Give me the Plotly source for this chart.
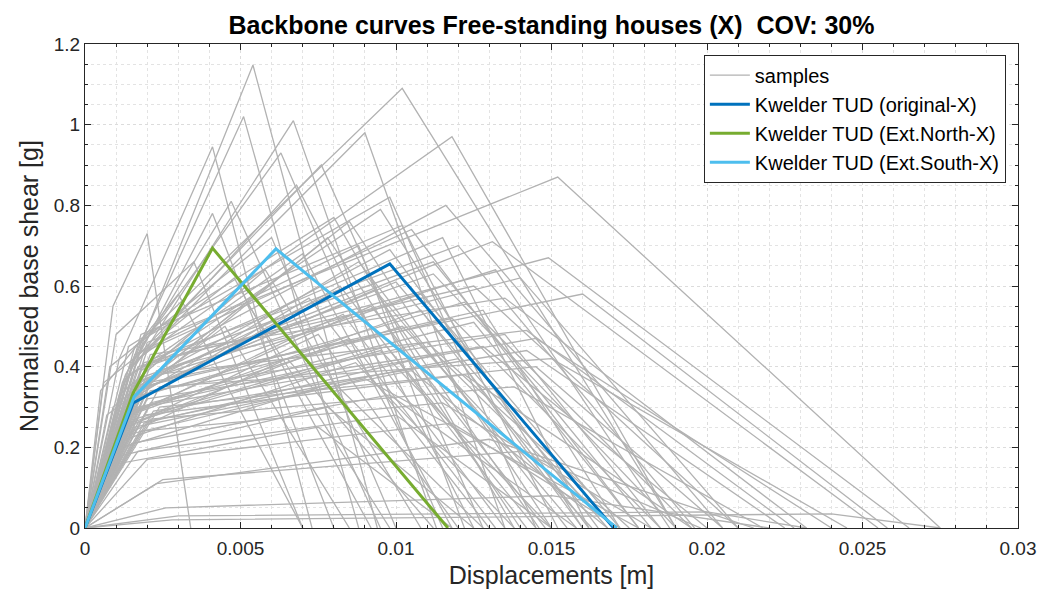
import plotly.graph_objects as go

# ---- sample backbone curves: (0,0) -> yield -> peak -> ultimate (0 force) ----
yield_disp = [0.0015, 0.0012, 0.0016, 0.0011, 0.0018, 0.0015, 0.0016, 0.0017, 0.0020, 0.0014,
              0.0017, 0.0016, 0.0009, 0.0012, 0.0013, 0.0015, 0.0016, 0.0014, 0.0018, 0.0012,
              0.0020, 0.0015, 0.0013, 0.0017, 0.0019, 0.0016, 0.0014, 0.0021, 0.0012, 0.0018,
              0.0015, 0.0022, 0.0011, 0.0017, 0.0020, 0.0014, 0.0024, 0.0013, 0.0016, 0.0019,
              0.0012, 0.0021, 0.0015, 0.0018, 0.0023, 0.0028, 0.0010, 0.0008, 0.0006, 0.0011,
              0.0013, 0.0016, 0.0019, 0.0014, 0.0017, 0.0020, 0.0022, 0.0015, 0.0018, 0.0021,
              0.0013, 0.0016, 0.0019, 0.0024, 0.0012, 0.0017, 0.0020, 0.0025, 0.0009, 0.0007,
              0.0010, 0.0014, 0.0018, 0.0016, 0.0020, 0.0023, 0.0015, 0.0018, 0.0021, 0.0017,
              0.0013, 0.0022, 0.0011, 0.0005, 0.0026, 0.0030, 0.0016, 0.0019, 0.0020, 0.0018]
yield_force = [0.40, 0.36, 0.40, 0.42, 0.45, 0.40, 0.45, 0.42, 0.46, 0.38,
               0.40, 0.36, 0.55, 0.35, 0.38, 0.40, 0.42, 0.33, 0.39, 0.30,
               0.44, 0.35, 0.31, 0.37, 0.41, 0.34, 0.28, 0.43, 0.27, 0.33,
               0.29, 0.38, 0.24, 0.30, 0.32, 0.26, 0.35, 0.22, 0.25, 0.28,
               0.20, 0.27, 0.21, 0.24, 0.11, 0.02, 0.48, 0.40, 0.36, 0.33,
               0.37, 0.31, 0.36, 0.30, 0.34, 0.40, 0.42, 0.33, 0.29, 0.31,
               0.25, 0.27, 0.26, 0.30, 0.18, 0.19, 0.17, 0.12, 0.30, 0.28,
               0.22, 0.45, 0.48, 0.39, 0.37, 0.39, 0.32, 0.35, 0.34, 0.26,
               0.23, 0.29, 0.16, 0.34, 0.05, 0.03, 0.43, 0.47, 0.36, 0.30]
peak_disp = [0.0054, 0.0051, 0.0067, 0.0041, 0.0063, 0.0090, 0.0102, 0.0118, 0.0152, 0.0116,
             0.0149, 0.0131, 0.0020, 0.0041, 0.0047, 0.0068, 0.0076, 0.0085, 0.0095, 0.0078,
             0.0105, 0.0098, 0.0088, 0.0112, 0.0125, 0.0108, 0.0092, 0.0135, 0.0083, 0.0118,
             0.0102, 0.0142, 0.0075, 0.0110, 0.0128, 0.0095, 0.0150, 0.0087, 0.0105, 0.0122,
             0.0080, 0.0138, 0.0098, 0.0115, 0.0130, 0.0240, 0.0035, 0.0060, 0.0048, 0.0058,
             0.0070, 0.0082, 0.0090, 0.0072, 0.0100, 0.0112, 0.0120, 0.0093, 0.0108, 0.0125,
             0.0085, 0.0097, 0.0113, 0.0145, 0.0078, 0.0100, 0.0118, 0.0140, 0.0052, 0.0045,
             0.0065, 0.0080, 0.0102, 0.0115, 0.0132, 0.0140, 0.0122, 0.0128, 0.0135, 0.0120,
             0.0090, 0.0142, 0.0075, 0.0030, 0.0150, 0.0200, 0.0088, 0.0098, 0.0160, 0.0145]
peak_force = [1.148, 1.02, 1.01, 0.945, 0.93, 0.98, 1.09, 0.97, 0.87, 0.80,
              0.67, 0.71, 0.73, 0.78, 0.81, 0.85, 0.90, 0.76, 0.79, 0.72,
              0.74, 0.69, 0.66, 0.63, 0.60, 0.58, 0.55, 0.57, 0.53, 0.52,
              0.50, 0.49, 0.48, 0.46, 0.45, 0.44, 0.42, 0.41, 0.39, 0.38,
              0.36, 0.35, 0.33, 0.31, 0.22, 0.035, 0.66, 0.72, 0.62, 0.64,
              0.68, 0.60, 0.62, 0.57, 0.61, 0.66, 0.70, 0.59, 0.54, 0.51,
              0.47, 0.45, 0.43, 0.40, 0.30, 0.28, 0.26, 0.19, 0.56, 0.50,
              0.42, 0.77, 0.75, 0.72, 0.64, 0.62, 0.56, 0.54, 0.48, 0.42,
              0.37, 0.44, 0.25, 0.58, 0.08, 0.04, 0.70, 0.82, 0.58, 0.47]
ult_disp = [0.0094, 0.0088, 0.0113, 0.0073, 0.0115, 0.0135, 0.0190, 0.0190, 0.0275, 0.0205,
            0.0265, 0.0255, 0.0034, 0.0080, 0.0095, 0.0125, 0.0128, 0.0150, 0.0160, 0.0140,
            0.0178, 0.0165, 0.0155, 0.0190, 0.0210, 0.0172, 0.0148, 0.0232, 0.0135, 0.0185,
            0.0163, 0.0228, 0.0120, 0.0175, 0.0200, 0.0150, 0.0245, 0.0138, 0.0168, 0.0195,
            0.0128, 0.0218, 0.0158, 0.0182, 0.0215, 0.0275, 0.0070, 0.0100, 0.0092, 0.0108,
            0.0118, 0.0142, 0.0158, 0.0130, 0.0168, 0.0182, 0.0196, 0.0146, 0.0162, 0.0178,
            0.0132, 0.0145, 0.0170, 0.0205, 0.0125, 0.0150, 0.0172, 0.0198, 0.0098, 0.0085,
            0.0112, 0.0138, 0.0152, 0.0162, 0.0188, 0.0210, 0.0195, 0.0172, 0.0185, 0.0160,
            0.0178, 0.0225, 0.0118, 0.0070, 0.0220, 0.0232, 0.0122, 0.0145, 0.0258, 0.0240]

# ---- reference backbone curves ----
orig_disp = [0.0, 0.00155, 0.0098, 0.0170]
orig_force = [0.0, 0.31, 0.655, 0.0]
north_disp = [0.0, 0.00155, 0.0041, 0.01167]
north_force = [0.0, 0.335, 0.694, 0.0]
south_disp = [0.0, 0.00158, 0.00614, 0.0171]
south_force = [0.0, 0.325, 0.692, 0.0]

x_ticks = [0, 0.005, 0.01, 0.015, 0.02, 0.025, 0.03]
x_tick_text = ["0", "0.005", "0.01", "0.015", "0.02", "0.025", "0.03"]
y_ticks = [0, 0.2, 0.4, 0.6, 0.8, 1.0, 1.2]
y_tick_text = ["0", "0.2", "0.4", "0.6", "0.8", "1", "1.2"]

FONT = "Liberation Sans, Arial, sans-serif"
GRAY = "rgb(178,178,178)"

fig = go.Figure()
for i in range(len(yield_disp)):
    fig.add_trace(go.Scatter(
        x=[0.0, yield_disp[i], peak_disp[i], ult_disp[i]],
        y=[0.0, yield_force[i], peak_force[i], 0.0],
        mode="lines", line=dict(color=GRAY, width=1.3),
        name="samples", legendgroup="samples", showlegend=(i == 0),
        hoverinfo="skip"))

fig.add_trace(go.Scatter(x=orig_disp, y=orig_force, mode="lines",
                         line=dict(color="#0072BD", width=3),
                         name="Kwelder TUD (original-X)"))
fig.add_trace(go.Scatter(x=north_disp, y=north_force, mode="lines",
                         line=dict(color="#77AC30", width=3),
                         name="Kwelder TUD (Ext.North-X)"))
fig.add_trace(go.Scatter(x=south_disp, y=south_force, mode="lines",
                         line=dict(color="#4DBEEE", width=3),
                         name="Kwelder TUD (Ext.South-X)"))

axis_common = dict(
    showline=True, linecolor="#262626", linewidth=1, mirror="ticks",
    ticks="inside", ticklen=6, tickcolor="#262626",
    showgrid=True, gridcolor="#dcdcdc", griddash="dot", gridwidth=1,
    zeroline=False,
    tickfont=dict(family=FONT, size=19, color="#262626"),
)

W, H = 1050, 592
L, R, T, B = 77, 40, 36, 72
fig.update_layout(
    width=W, height=H,
    margin=dict(l=L, r=R, t=T, b=B, autoexpand=False),
    paper_bgcolor="white", plot_bgcolor="white",
    title=dict(text="<b>Backbone curves Free-standing houses (X)\u00a0\u00a0COV: 30%</b>",
               x=(L + (W - R)) / 2 / W, xanchor="center", y=1 - 17 / H, yanchor="middle",
               font=dict(family=FONT, size=25, color="black")),
    showlegend=True,
    legend=dict(x=0.987, xanchor="right", y=0.978, yanchor="top",
                bgcolor="white", bordercolor="#262626", borderwidth=1,
                font=dict(family=FONT, size=20, color="black"),
                tracegroupgap=0, itemwidth=40),
    font=dict(family=FONT),
)

fig.update_xaxes(range=[0, 0.03], tickvals=x_ticks, ticktext=x_tick_text,
                 ticklabelstandoff=3,
                 title=dict(text="Displacements [m]", font=dict(family=FONT, size=25, color="#262626"),
                            standoff=8),
                 minor=dict(dtick=0.001, showgrid=True, gridcolor="#e3e3e3", griddash="dot",
                            ticks="inside", ticklen=3, tickcolor="#262626"),
                 **axis_common)
fig.update_yaxes(range=[0, 1.2], tickvals=y_ticks, ticktext=y_tick_text,
                 title=dict(text="Normalised base shear [g]", font=dict(family=FONT, size=25, color="#262626"),
                            standoff=8),
                 minor=dict(dtick=0.05, showgrid=True, gridcolor="#e3e3e3", griddash="dot",
                            ticks="inside", ticklen=3, tickcolor="#262626"),
                 **axis_common)

fig.write_html("out.html")
